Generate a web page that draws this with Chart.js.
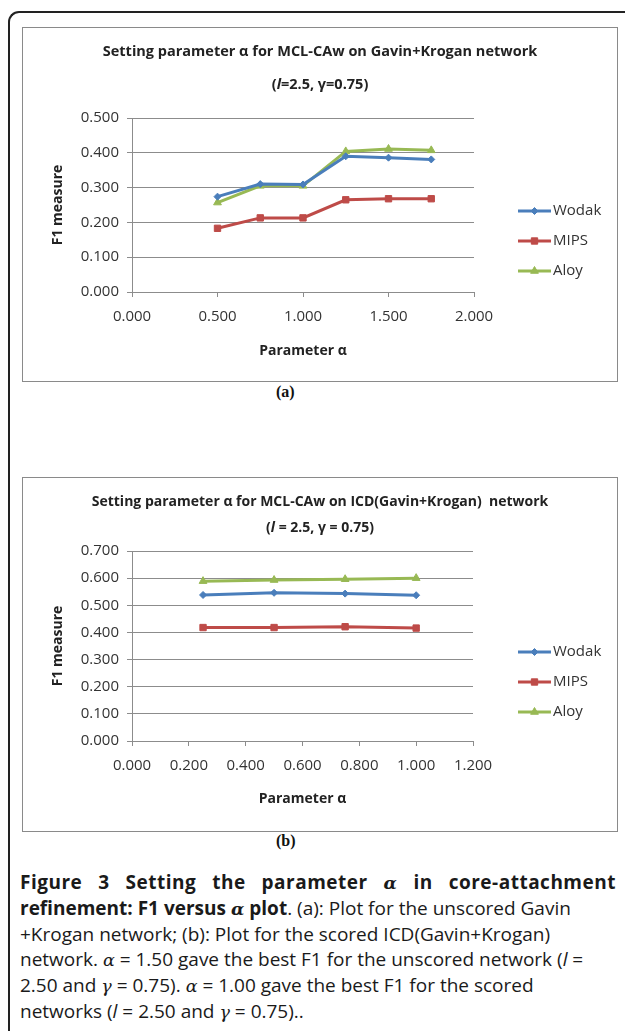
<!DOCTYPE html>
<html>
<head>
<meta charset="utf-8">
<script src="https://cdn.jsdelivr.net/npm/chart.js@4/dist/chart.umd.min.js"></script>
<style>
  html, body { margin: 0; padding: 0; background: #fff; overflow: hidden; }
  body { width: 625px; height: 1031px; position: relative; font-family: "Open Sans", sans-serif; }
  #outer { position: absolute; left: 8px; top: 11px; width: 700px; height: 1100px;
           border-top: 2px solid #222; border-left: 2px solid #222; border-top-left-radius: 11px; }
  .frame { position: absolute; left: 22px; width: 594px; height: 353px; border: 1px solid #8a8a8a; background: #fff; }
  .frame canvas { position: absolute; left: 0; top: 0; }
  .ttl { position: absolute; left: 0; width: 594px; text-align: center; font-weight: bold;
         font-size: 14.5px; color: #222; white-space: pre; line-height: 18px; }
  .ttl.small { font-size: 14px; }
  .sub { position: absolute; left: 276px; font-family: "Liberation Serif", serif; font-weight: bold; font-size: 16px; color: #111; }
  #caption { position: absolute; left: 20px; top: 870px; width: 596px; font-family: "Open Sans", sans-serif;
             font-size: 19px; line-height: 25px; color: #1a1a1a; letter-spacing: 0; }
  #caption div { white-space: nowrap; }
  #caption .l1 { text-align: justify; text-align-last: justify; white-space: normal; letter-spacing: 0.5px; }
  #caption .m { font-family: "DejaVu Serif", serif; font-style: italic; font-size: 17.5px; }
</style>
</head>
<body>
<div id="outer"></div>

<div class="frame" style="top:27px;">
  <canvas id="chartA" width="594" height="353"></canvas>
  <div class="ttl" style="top:14px;">Setting parameter α for MCL-CAw on Gavin+Krogan network</div>
  <div class="ttl" style="top:47px;">(<i>l</i>=2.5, γ=0.75)</div>
</div>
<div class="sub" style="top:383px;">(a)</div>

<div class="frame" style="top:477px;">
  <canvas id="chartB" width="594" height="353"></canvas>
  <div class="ttl small" style="top:14px;">Setting parameter α for MCL-CAw on ICD(Gavin+Krogan)  network</div>
  <div class="ttl small" style="top:40px;">(<i>l</i> = 2.5, γ = 0.75)</div>
</div>
<div class="sub" style="top:832px;">(b)</div>

<div id="caption">
  <div class="l1"><b>Figure 3 Setting the parameter <span class="m">α</span> in core-attachment</b></div>
  <div><b>refinement: F1 versus <span class="m">α</span> plot</b>. (a): Plot for the unscored Gavin</div>
  <div>+Krogan network; (b): Plot for the scored ICD(Gavin+Krogan)</div>
  <div>network. <span class="m">α</span> = 1.50 gave the best F1 for the unscored network (<i>l</i> =</div>
  <div>2.50 and <span class="m">γ</span> = 0.75). <span class="m">α</span> = 1.00 gave the best F1 for the scored</div>
  <div>networks (<i>l</i> = 2.50 and <span class="m">γ</span> = 0.75)..</div>
</div>

<script>
// (a) unscored Gavin+Krogan network
const alphaA = [0.50, 0.75, 1.00, 1.25, 1.50, 1.75];
const wodakA = [0.274, 0.310, 0.309, 0.390, 0.386, 0.381];
const mipsA  = [0.183, 0.213, 0.213, 0.265, 0.268, 0.268];
const aloyA  = [0.257, 0.305, 0.305, 0.404, 0.411, 0.407];

// (b) scored ICD(Gavin+Krogan) network
const alphaB = [0.25, 0.50, 0.75, 1.00];
const wodakB = [0.538, 0.546, 0.543, 0.537];
const mipsB  = [0.418, 0.418, 0.421, 0.416];
const aloyB  = [0.589, 0.593, 0.596, 0.600];

const seriesNames = ['Wodak', 'MIPS', 'Aloy'];
const seriesColors = ['#4A7EBB', '#BE4B48', '#98B954'];
const seriesMarkers = ['rectRot', 'rect', 'triangle'];
const markerSizes = [3.5, 4.5, 4.5];

const FONT = '"Open Sans", sans-serif';
const GRID = '#8c8c8c';

// Legend with a short line segment and the series marker in its middle
const lineLegend = {
  id: 'lineLegend',
  afterDraw(chart, args, opts) {
    const ctx = chart.ctx;
    chart.data.datasets.forEach((ds, i) => {
      const y = opts.top + i * opts.gap;
      const x0 = opts.left, x1 = opts.left + 33;
      ctx.save();
      ctx.strokeStyle = ds.borderColor;
      ctx.lineWidth = ds.borderWidth;
      ctx.beginPath(); ctx.moveTo(x0, y); ctx.lineTo(x1, y); ctx.stroke();
      ctx.fillStyle = ds.backgroundColor;
      ctx.strokeStyle = ds.borderColor;
      ctx.lineWidth = 1;
      Chart.helpers.drawPoint(ctx, { pointStyle: ds.pointStyle, radius: ds.pointRadius, rotation: 0, borderWidth: 1 }, (x0 + x1) / 2, y);
      ctx.fillStyle = '#333';
      ctx.font = '15px ' + FONT;
      ctx.textBaseline = 'middle';
      ctx.textAlign = 'left';
      ctx.fillText(ds.label, x1 + 2, y);
      ctx.restore();
    });
  }
};

function makeChart(id, xs, ys, xMax, xStep, yMax, area, legendTop, xTitlePad) {
  const datasets = ys.map((vals, i) => ({
    label: seriesNames[i],
    data: xs.map((x, j) => ({ x: x, y: vals[j] })),
    showLine: true,
    borderColor: seriesColors[i],
    backgroundColor: seriesColors[i],
    borderWidth: 3,
    pointStyle: seriesMarkers[i],
    pointRadius: markerSizes[i],
    pointBorderWidth: 1,
    tension: 0
  }));
  return new Chart(document.getElementById(id), {
    type: 'scatter',
    data: { datasets },
    plugins: [lineLegend],
    options: {
      responsive: false,
      animation: false,
      devicePixelRatio: 1,
      layout: { padding: { left: 0, top: area.top, right: 594 - area.right, bottom: 0 } },
      plugins: {
        legend: { display: false },
        tooltip: { enabled: false },
        lineLegend: { left: 495, top: legendTop, gap: 30 }
      },
      scales: {
        x: {
          type: 'linear', min: 0, max: xMax,
          afterFit(s) { s.height = 353 - area.bottom; },
          ticks: { stepSize: xStep, padding: 11, color: '#333', font: { family: FONT, size: 15 },
                   callback: v => Number(v).toFixed(3) },
          grid: { drawOnChartArea: false, drawTicks: true, tickLength: 5, color: GRID },
          border: { display: true, color: GRID, width: 1 },
          title: { display: true, text: 'Parameter α', color: '#222',
                   font: { family: FONT, size: 14, weight: 'bold' }, padding: { top: 0, bottom: xTitlePad } }
        },
        y: {
          type: 'linear', min: 0, max: yMax,
          afterFit(s) { s.width = area.left; },
          ticks: { stepSize: 0.1, padding: 8, color: '#333', font: { family: FONT, size: 15 },
                   callback: v => Number(v).toFixed(3) },
          grid: { drawTicks: true, tickLength: 5, color: GRID, lineWidth: 1 },
          border: { display: true, color: GRID, width: 1 },
          title: { display: true, text: 'F1 measure', color: '#222',
                   font: { family: FONT, size: 14, weight: 'bold' }, padding: { top: 27, bottom: 0 } }
        }
      }
    }
  });
}

makeChart('chartA', alphaA, [wodakA, mipsA, aloyA], 2.0, 0.5, 0.5,
          { left: 109, right: 451, top: 90, bottom: 264 }, 183, 22);
makeChart('chartB', alphaB, [wodakB, mipsB, aloyB], 1.2, 0.2, 0.7,
          { left: 109, right: 450, top: 73, bottom: 263 }, 174, 24);
</script>
</body>
</html>
